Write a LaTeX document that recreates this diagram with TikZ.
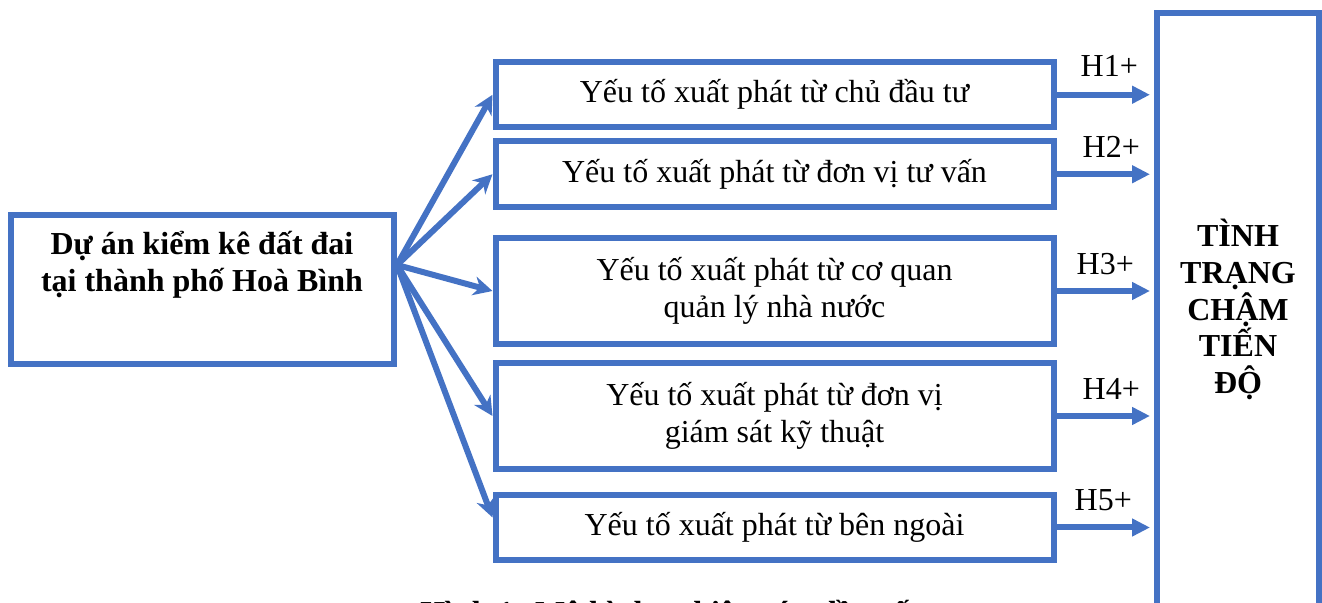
\documentclass[tikz,border=0pt]{standalone}
\usepackage{fontspec}
\setmainfont{Liberation Serif}
\usetikzlibrary{arrows.meta}
\definecolor{boxblue}{HTML}{4472C4}

\begin{document}
\begin{tikzpicture}[x=0.5pt, y=-0.5pt,
  frame/.style={draw=boxblue, line width=3pt, inner sep=0pt},
  factor/.style={frame, minimum width=279pt, align=center,
    font=\fontsize{16}{18.5}\selectfont},
  boldtxt/.style={align=center, font=\fontsize{16}{18.3}\selectfont\bfseries},
  fan/.style={draw=boxblue, line width=3pt, -{Stealth[length=9.5pt,width=9.5pt,inset=3pt]}},
  harrow/.style={draw=boxblue, line width=3pt, -{Triangle[length=9pt,width=8.5pt]}, shorten >=2pt},
  hlab/.style={font=\fontsize{16}{18}\selectfont, inner sep=0pt}]

\useasboundingbox (0,0) rectangle (1322,603);
\clip (0,0) rectangle (1322,603);

% left box
\node [frame, minimum width=191.5pt, minimum height=74.5pt] (src) at (202.5,289.5) {};
\node [boldtxt] (srctxt) at (202,265) {Dự án kiểm kê đất đai\\tại thành phố Hoà Bình};
\coordinate (hub) at (src.east |- srctxt);

% factor boxes
\node [factor, minimum height=32.75pt] (f1) at (774.5,94.75) {Yếu tố xuất phát từ chủ đầu tư};
\node [factor, minimum height=32.75pt] (f2) at (774.5,174.25) {Yếu tố xuất phát từ đơn vị tư vấn};
\node [factor, minimum height=53pt] (f3) at (774.5,291) {Yếu tố xuất phát từ cơ quan\\quản lý nhà nước};
\node [factor, minimum height=53pt] (f4) at (774.5,416) {Yếu tố xuất phát từ đơn vị\\giám sát kỹ thuật};
\node [factor, minimum height=32.5pt] (f5) at (774.5,527.5) {Yếu tố xuất phát từ bên ngoài};

% right box
\node [frame, minimum width=81pt, minimum height=313pt] (res) at (1238,326.5) {};
\node [boldtxt] (restxt) at (1238,309.5) {TÌNH\\TRẠNG\\CHẬM\\TIẾN\\ĐỘ};

% fan arrows
\draw [fan] (hub) -- (f1.west);
\draw [fan] (hub) -- (f2.west);
\draw [fan] (hub) -- (f3.west);
\draw [fan] (hub) -- (f4.west);
\draw [fan] (hub) -- ([yshift=5pt]f5.west);

% hypotheses
\draw [harrow] (f1.east) -- node [hlab, yshift=14.5pt, xshift=2pt] (h1) {H1+} (f1.east -| res.west);
\draw [harrow] (f2.east) -- node [hlab, yshift=13.5pt, xshift=3pt] (h2) {H2+} (f2.east -| res.west);
\draw [harrow] (f3.east) -- node [hlab, yshift=13.5pt] (h3) {H3+} (f3.east -| res.west);
\draw [harrow] (f4.east) -- node [hlab, yshift=13.5pt, xshift=3pt] (h4) {H4+} (f4.east -| res.west);
\draw [harrow] (f5.east) -- node [hlab, yshift=13.5pt, xshift=-1pt] (h5) {H5+} (f5.east -| res.west);

% caption, cut off at the bottom edge
\node [boldtxt, anchor=base] (cap) at (670,623) {Hình 1: Mô hình nghiên cứu đề xuất};
\end{tikzpicture}
\end{document}
